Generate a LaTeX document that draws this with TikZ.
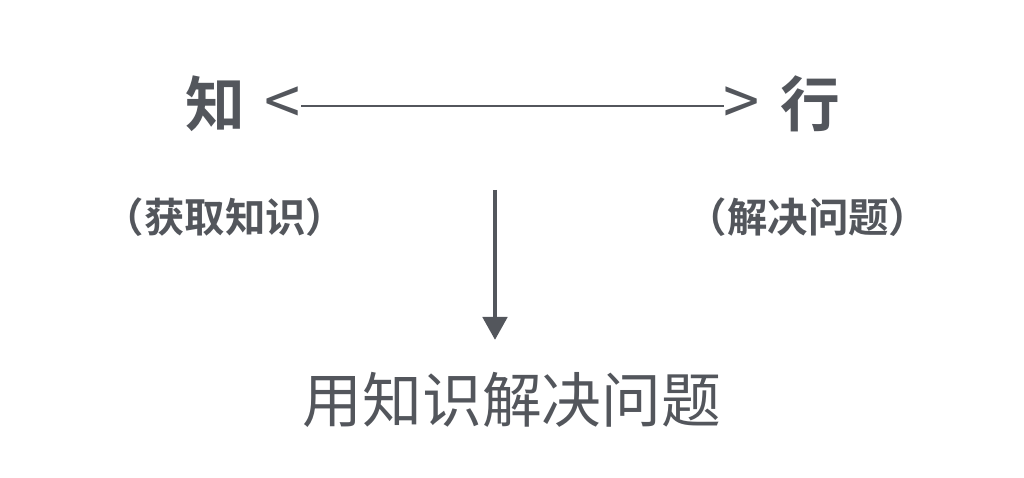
\documentclass[tikz,border=0pt]{standalone}
\usepackage{fontspec}
\setmainfont{Noto Sans CJK SC}[BoldFont={* Bold}]
\usetikzlibrary{arrows.meta}

\begin{document}
\begin{tikzpicture}[x=1cm,y=1cm]
\definecolor{inkgray}{HTML}{53565C}
\tikzset{
  bigword/.style={text=inkgray,font=\fontsize{34}{34}\selectfont\bfseries,inner sep=0pt},
  angle/.style={text=inkgray,font=\fontsize{37}{37}\selectfont,inner sep=0pt},
  note/.style={text=inkgray,font=\fontsize{23}{23}\selectfont\bfseries,inner sep=0pt},
  result/.style={text=inkgray,font=\fontsize{34}{34}\selectfont,inner sep=0pt},
  link/.style={draw=inkgray,line width=1pt},
  down/.style={draw=inkgray,line width=2.8pt,shorten >=6.4mm,-{Triangle[length=4.6mm,width=4.8mm]}}
}
\useasboundingbox (0,0) rectangle (20.48,9.56);
\node[bigword] (n_zhi) at (4.30,7.48) {知};
\node[angle] (n_lt) at (5.66,7.44) {<};
\node[angle] (n_gt) at (14.84,7.44) {>};
\node[bigword] (n_xing) at (16.20,7.48) {行};
\node[note] (n_get) at (4.50,5.22) {（获取知识）};
\node[note] (n_solve) at (16.16,5.22) {（解决问题）};
\node[result] (n_use) at (10.24,1.56) {用知识解决问题};
\coordinate (c_top) at (9.90,5.76);
\draw[link] (n_lt.east) -- (n_gt.west);
\draw[down] (c_top) -- (c_top |- n_use.north);
\end{tikzpicture}
\end{document}
